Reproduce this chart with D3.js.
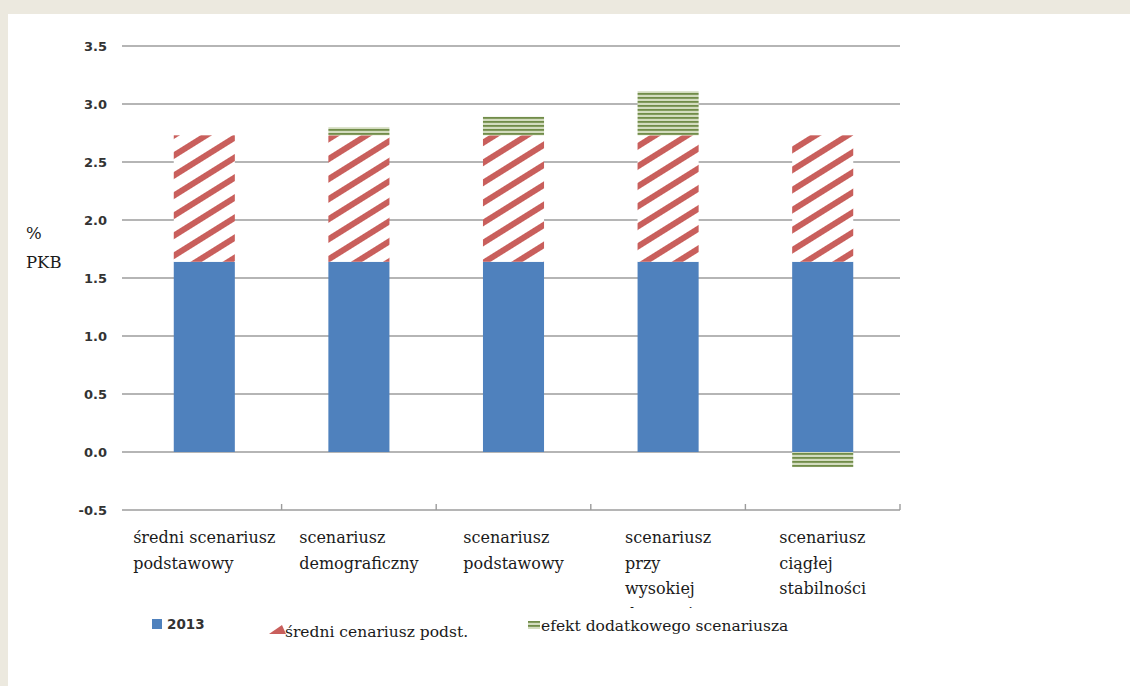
<!DOCTYPE html>
<html>
<head>
<meta charset="utf-8">
<script src="https://cdn.jsdelivr.net/npm/d3@7"></script>
<style>
  html, body { margin: 0; padding: 0; background: #ECE9DF; }
  svg { display: block; }
</style>
</head>
<body>
<svg id="chart" width="1130" height="686"></svg>
<script>
// Scenario labels (lines separated by "\n")
const categories = [
  "średni scenariusz\npodstawowy",
  "scenariusz\ndemograficzny",
  "scenariusz\npodstawowy",
  "scenariusz\nprzy\nwysokiej\ndzietności",
  "scenariusz\nciągłej\nstabilności"
];
const seriesNames = ["2013", "średni cenariusz podst.", "efekt dodatkowego scenariusza"];
// % PKB
const values2013 = [1.64, 1.64, 1.64, 1.64, 1.64];
const valuesSredni = [1.09, 1.09, 1.09, 1.09, 1.09];
const valuesEfekt = [0, 0.07, 0.16, 0.38, -0.13];
const yTicks = [-0.5, 0, 0.5, 1, 1.5, 2, 2.5, 3, 3.5];
const yLabel = ["%", "PKB"];

const svg = d3.select("#chart");
const W = 1130, H = 686;

svg.append("rect").attr("width", W).attr("height", H).attr("fill", "#ECE9DF");
svg.append("rect").attr("x", 8).attr("y", 14).attr("width", W - 8).attr("height", H - 14).attr("fill", "#ffffff");

const defs = svg.append("defs");
// diagonal red hatch
const hatch = defs.append("pattern")
  .attr("id", "hatchRed").attr("patternUnits", "userSpaceOnUse")
  .attr("width", 10).attr("height", 17)
  .attr("patternTransform", "rotate(-32)");
hatch.append("rect").attr("width", 10).attr("height", 17).attr("fill", "#ffffff");
hatch.append("rect").attr("y", 0).attr("width", 10).attr("height", 6).attr("fill", "#C95F5B");
// horizontal green stripes
const stripes = defs.append("pattern")
  .attr("id", "stripeGreen").attr("patternUnits", "userSpaceOnUse")
  .attr("width", 8).attr("height", 4);
stripes.append("rect").attr("width", 8).attr("height", 4).attr("fill", "#D3DCBF");
stripes.append("rect").attr("y", 1).attr("width", 8).attr("height", 1.8).attr("fill", "#718C49");

const soft = defs.append("filter").attr("id", "soft");
soft.append("feGaussianBlur").attr("stdDeviation", 0.55);

const x = d3.scaleBand().domain(d3.range(categories.length)).range([127, 900]).paddingInner(0.605).paddingOuter(0.3025);
const y = d3.scaleLinear().domain([-0.5, 3.5]).range([510, 46]);

// gridlines
svg.append("g").selectAll("line").data(yTicks).join("line")
  .attr("x1", 122).attr("x2", 900)
  .attr("y1", d => y(d)).attr("y2", d => y(d))
  .attr("stroke", "#9C9C9C").attr("stroke-width", 1.6);

// y tick labels (plain hyphen for negatives)
svg.append("g").selectAll("text").data(yTicks).join("text")
  .attr("x", 107).attr("y", d => y(d)).attr("dy", "0.36em")
  .attr("text-anchor", "end")
  .attr("font-family", "DejaVu Sans").attr("font-size", 13).attr("font-weight", "bold")
  .attr("fill", "#333")
  .text(d => d3.format(".1f")(d).replace("\u2212", "-"));

// y axis title
svg.append("g").selectAll("text").data(yLabel).join("text")
  .attr("x", 26).attr("y", (d, i) => 239 + i * 29)
  .attr("font-family", "DejaVu Serif").attr("font-size", 16.5)
  .attr("fill", "#1a1a1a")
  .text(d => d);

// stacked bars
const rows = categories.map((c, i) => ({ i, a: values2013[i], b: valuesSredni[i], c: valuesEfekt[i] }));
const stack = d3.stack().keys(["a", "b", "c"]).offset(d3.stackOffsetDiverging);
const layers = stack(rows);
const fills = ["#4F81BD", "url(#hatchRed)", "url(#stripeGreen)"];

const bars = svg.append("g");
layers.forEach((layer, k) => {
  bars.append("g").selectAll("rect").data(layer.filter(d => d[1] !== d[0])).join("rect")
    .attr("x", d => x(d.data.i))
    .attr("width", x.bandwidth())
    .attr("y", d => y(Math.max(d[0], d[1])))
    .attr("height", d => Math.abs(y(d[0]) - y(d[1])))
    .attr("fill", fills[k])
    .attr("filter", k === 0 ? null : "url(#soft)");
});

// category axis ticks
const step = x.step();
const tickXs = d3.range(categories.length + 1).map(i => x(0) - x.paddingOuter() * step + i * step);
svg.append("g").selectAll("line").data(tickXs.slice(1)).join("line")
  .attr("x1", d => d).attr("x2", d => d)
  .attr("y1", y(-0.5) - 6).attr("y2", y(-0.5))
  .attr("stroke", "#9C9C9C").attr("stroke-width", 1.4);

// category labels, clipped at the bottom of the axis area
defs.append("clipPath").attr("id", "labelClip")
  .append("rect").attr("x", 100).attr("y", 515).attr("width", 850).attr("height", 93);
const labelG = svg.append("g").attr("clip-path", "url(#labelClip)");
categories.forEach((c, i) => {
  const lines = c.split("\n");
  const t = labelG.append("text")
    .attr("font-family", "DejaVu Serif").attr("font-size", 16)
    .attr("fill", "#1a1a1a");
  lines.forEach((ln, j) => {
    t.append("tspan").attr("y", 543 + j * 25.5).text(ln);
  });
  const widths = [];
  t.selectAll("tspan").each(function () { widths.push(this.getComputedTextLength()); });
  const cx = x(i) + x.bandwidth() / 2;
  const left = cx - d3.max(widths) / 2;
  t.selectAll("tspan").attr("x", left);
});

// legend
const lg = svg.append("g");
lg.append("rect").attr("x", 152).attr("y", 619).attr("width", 10).attr("height", 10).attr("fill", "#4F81BD");
lg.append("text").attr("x", 167).attr("y", 629)
  .attr("font-family", "DejaVu Sans").attr("font-size", 13.5).attr("font-weight", "bold").attr("fill", "#333")
  .text(seriesNames[0]);
lg.append("path").attr("d", "M269,634 L282,625 L286,634 Z").attr("fill", "#C95F5B").attr("filter", "url(#soft)");
lg.append("text").attr("x", 285).attr("y", 637)
  .attr("font-family", "DejaVu Serif").attr("font-size", 15.5).attr("fill", "#1a1a1a")
  .text(seriesNames[1]);
lg.append("rect").attr("x", 528).attr("y", 621).attr("width", 12).attr("height", 8).attr("fill", "url(#stripeGreen)");
lg.append("text").attr("x", 541).attr("y", 631)
  .attr("font-family", "DejaVu Serif").attr("font-size", 15.5).attr("fill", "#1a1a1a")
  .text(seriesNames[2]);
</script>
</body>
</html>
